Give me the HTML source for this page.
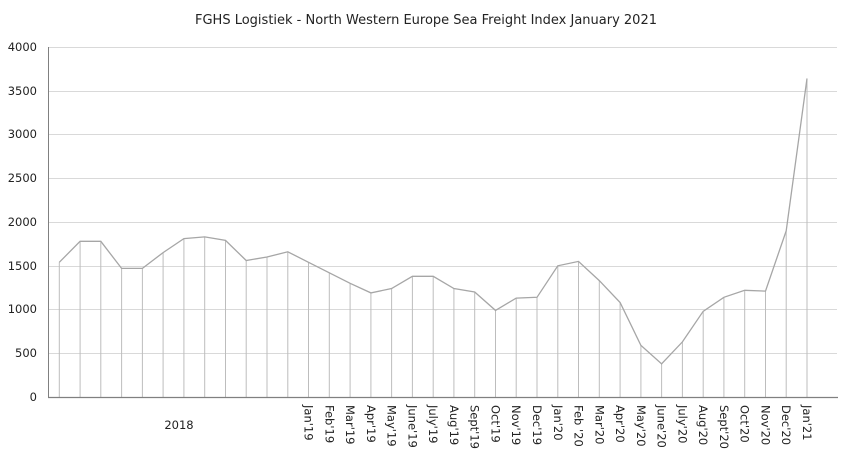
<!DOCTYPE html>
<html><head><meta charset="utf-8"><style>
html,body{margin:0;padding:0;background:#fff;}
svg{display:block;font-family:"DejaVu Sans","Liberation Sans",sans-serif;}
</style></head><body>
<svg width="852" height="467" viewBox="0 0 852 467" xmlns="http://www.w3.org/2000/svg">
<text x="426" y="24" text-anchor="middle" font-size="13" fill="#222">FGHS Logistiek - North  Western Europe Sea Freight Index January 2021</text>
<g stroke="#d9d9d9" stroke-width="1">
<line x1="48" y1="47.5" x2="837" y2="47.5"/>
<line x1="48" y1="91.5" x2="837" y2="91.5"/>
<line x1="48" y1="134.5" x2="837" y2="134.5"/>
<line x1="48" y1="178.5" x2="837" y2="178.5"/>
<line x1="48" y1="222.5" x2="837" y2="222.5"/>
<line x1="48" y1="266.5" x2="837" y2="266.5"/>
<line x1="48" y1="309.5" x2="837" y2="309.5"/>
<line x1="48" y1="353.5" x2="837" y2="353.5"/>
</g>
<g font-size="11.5" fill="#222" text-anchor="end">
<text x="37" y="51">4000</text><text x="37" y="95">3500</text><text x="37" y="138">3000</text>
<text x="37" y="182">2500</text><text x="37" y="226">2000</text><text x="37" y="270">1500</text>
<text x="37" y="313">1000</text><text x="37" y="357">500</text><text x="37" y="401">0</text>
</g>
<g id="drops" stroke="#bdbdbd" stroke-width="1"></g>
<polyline id="line" fill="none" stroke="#a6a6a6" stroke-width="1.3"/>
<line x1="48" y1="397.5" x2="838" y2="397.5" stroke="#808080" stroke-width="1.2"/>
<line x1="48.5" y1="47" x2="48.5" y2="397" stroke="#808080" stroke-width="1"/>
<text x="179" y="429" font-size="11.5" fill="#222" text-anchor="middle">2018</text>
<g id="labels" font-size="11.5" fill="#222"></g>
</svg>
<script>
var v=[1540,1780,1780,1470,1470,1650,1810,1830,1790,1560,1600,1660,1540,1420,1300,1190,1240,1380,1380,1240,1200,990,1130,1140,1500,1550,1330,1080,590,380,630,980,1140,1220,1210,1900,3640];
var L=["Jan'19","Feb'19","Mar'19","Apr'19","May'19","June'19","July'19","Aug'19","Sept'19","Oct'19","Nov'19","Dec'19","Jan'20","Feb '20","Mar'20","Apr'20","May'20","June'20","July'20","Aug'20","Sept'20","Oct'20","Nov'20","Dec'20","Jan'21"];
var ns="http://www.w3.org/2000/svg",pts=[],d=document.getElementById("drops"),lb=document.getElementById("labels");
for(var i=0;i<v.length;i++){var x=59.3+i*20.77,y=397-v[i]*0.0875;pts.push(x.toFixed(1)+","+y.toFixed(1));
var l=document.createElementNS(ns,"line");l.setAttribute("x1",x.toFixed(1));l.setAttribute("x2",x.toFixed(1));l.setAttribute("y1",y.toFixed(1));l.setAttribute("y2",397);d.appendChild(l);
if(i>=12){var t=document.createElementNS(ns,"text");t.setAttribute("transform","translate("+(x-4).toFixed(1)+",405) rotate(90)");t.textContent=L[i-12];lb.appendChild(t);}}
document.getElementById("line").setAttribute("points",pts.join(" "));
</script>
</body></html>
